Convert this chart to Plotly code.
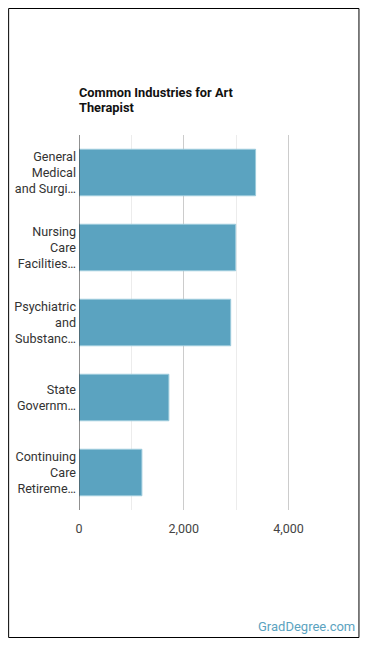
import plotly.graph_objects as go

categories = [
    "General<br>Medical<br>and Surgi…",
    "Nursing<br>Care<br>Facilities…",
    "Psychiatric<br>and<br>Substanc…",
    "State<br>Governm…",
    "Continuing<br>Care<br>Retireme…",
]
values = [3370, 2990, 2895, 1715, 1200]
tick_vals = [0, 2000, 4000]
tick_text = ["0", "2,000", "4,000"]
title_lines = ["Common Industries for Art", "Therapist"]

L, R, T, B = 79, 28.5, 135, 138
W, H = 370, 648
pw = W - L - R
ph = H - T - B

def px(x):
    return (x - L) / pw

def py(y):
    return (H - B - y) / ph

fig = go.Figure(go.Bar(
    x=values, y=categories, orientation="h",
    marker=dict(color="#5ba3c0", line=dict(color="#9ccbdc", width=1)),
    width=0.62, hoverinfo="skip",
))

annotations = []
for i, line in enumerate(title_lines):
    annotations.append(dict(
        text="<b>" + line + "</b>", xref="paper", yref="paper",
        x=px(77), y=py(92 + 15 * i), xanchor="left", yanchor="middle", align="left",
        showarrow=False, font=dict(size=12.8, color="#111", family="Roboto")))
annotations.append(dict(
    text="GradDegree.com", xref="paper", yref="paper",
    x=px(358), y=py(626), xanchor="right", yanchor="middle",
    showarrow=False, font=dict(size=13, color="#5ba3c0", family="Roboto")))

fig.update_layout(
    width=W, height=H,
    margin=dict(l=L, r=R, t=T, b=B),
    paper_bgcolor="white", plot_bgcolor="white",
    font=dict(family="Roboto", size=12, color="#333"),
    showlegend=False,
    xaxis=dict(
        range=[0, 5000], tickvals=tick_vals, ticktext=tick_text,
        showgrid=True, gridcolor="#cccccc", gridwidth=1,
        minor=dict(dtick=1000, tick0=0, showgrid=True, gridcolor="#ececec", gridwidth=1),
        zeroline=False, showline=False, ticks="", ticklen=0,
        ticklabelstandoff=9,
        tickfont=dict(size=12.5, color="#444"), fixedrange=True,
    ),
    yaxis=dict(
        autorange="reversed", showgrid=False, zeroline=False,
        showline=False, ticks="", ticklabelstandoff=2,
        tickfont=dict(size=12.6, color="#333"), fixedrange=True,
    ),
    shapes=[
        dict(type="rect", xref="paper", yref="paper",
             x0=px(8.5), x1=px(359.5), y0=py(637.5), y1=py(8.5),
             line=dict(color="black", width=1), fillcolor="rgba(0,0,0,0)", layer="above"),
        dict(type="line", xref="x", yref="paper", x0=0, x1=0, y0=0, y1=1,
             line=dict(color="#222", width=1), layer="above"),
    ],
    annotations=annotations,
)

fig.write_html("out.html")
